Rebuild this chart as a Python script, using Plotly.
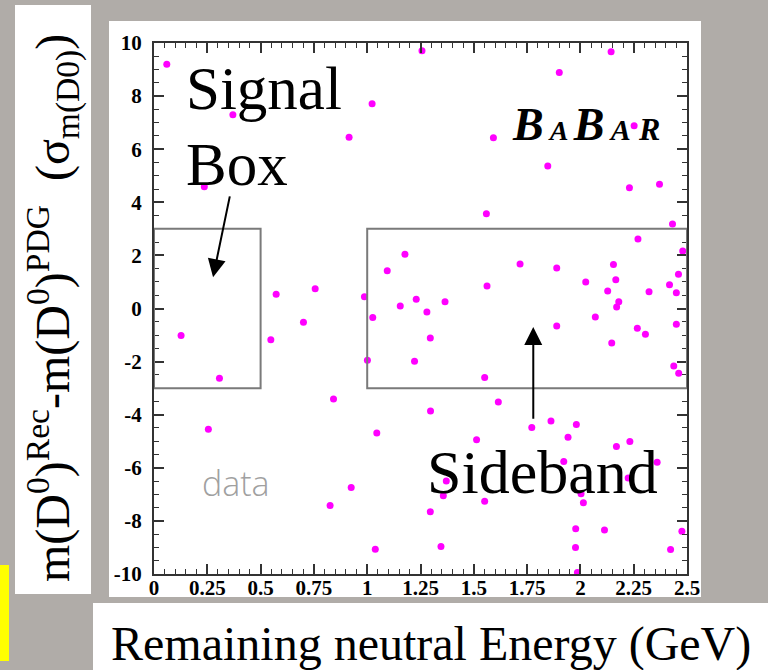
import plotly.graph_objects as go

# ---- data ----
energy_gev = [0.06, 0.37, 0.236, 0.915, 1.023, 0.573, 0.756, 0.987, 1.094, 1.026,
              1.155, 1.257, 2.144, 1.901, 1.592, 2.252, 1.847, 2.23, 2.371, 1.559,
              2.27, 1.177, 1.717, 1.889, 2.155, 2.166, 2.025, 2.128, 2.322, 1.562,
              1.23, 1.365, 1.28, 2.18, 2.17, 2.07, 2.432, 2.48, 2.46, 2.418,
              2.45, 2.45, 2.267, 2.305, 2.147, 2.438, 2.461, 0.127, 0.307, 0.255,
              0.548, 0.701, 0.842, 1.001, 1.045, 0.925, 0.826, 1.038, 1.889, 1.296,
              1.222, 1.551, 1.615, 1.297, 1.772, 1.862, 1.981, 1.942, 1.513, 2.169,
              2.232, 1.922, 2.36, 1.371, 1.357, 2.224, 2.003, 2.014, 1.551, 1.296,
              1.978, 2.113, 1.346, 1.977, 1.986, 2.476, 2.423]
delta_m_sigma = [9.2, 7.3, 4.59, 6.45, 7.71, 0.54, 0.74, 0.44, 1.42, -0.34,
                 0.09, 9.71, 9.67, 8.89, 6.43, 6.88, 5.37, 4.55, 4.68, 3.57,
                 2.62, 2.04, 1.68, 1.53, 1.66, 1.08, 1.0, 0.66, 0.63, 0.85,
                 0.35, 0.25, -0.13, 0.25, 0.06, -0.32, 3.18, 2.17, 1.29, 0.89,
                 0.59, -0.59, -0.74, -0.97, -1.3, -2.17, -2.44, -1.02, -2.63, -4.55,
                 -1.18, -0.52, -3.41, -1.95, -4.69, -6.74, -7.42, -9.07, -0.66, -1.11,
                 -1.99, -2.6, -3.52, -3.86, -4.48, -4.24, -4.37, -4.85, -4.94, -5.2,
                 -5.01, -5.76, -5.79, -6.5, -7.05, -6.38, -6.98, -7.32, -7.26, -7.66,
                 -8.3, -8.34, -8.96, -9.0, -9.94, -8.39, -9.08]

x_ticks = [0, 0.25, 0.5, 0.75, 1, 1.25, 1.5, 1.75, 2, 2.25, 2.5]
x_tick_labels = ["0", "0.25", "0.5", "0.75", "1", "1.25", "1.5", "1.75", "2", "2.25", "2.5"]
y_ticks = [-10, -8, -6, -4, -2, 0, 2, 4, 6, 8, 10]
y_tick_labels = ["-10", "-8", "-6", "-4", "-2", "0", "2", "4", "6", "8", "10"]

signal_box = dict(x0=0.0, x1=0.5, y0=-3.0, y1=3.0)
sideband_box = dict(x0=1.0, x1=2.5, y0=-3.0, y1=3.0)

x_title = "Remaining neutral Energy (GeV)"
y_title = "m(D<sup>0</sup>)<sup>Rec</sup>-m(D<sup>0</sup>)<sup>PDG</sup>  (σ<sub>m(D0)</sub>)"

# ---- layout geometry (pixels) ----
W, H = 768, 670
L, R, T, B = 154, 687, 43, 574


def px(xp):
    return (xp - L) / (R - L)


def py(yp):
    return (B - yp) / (B - T)


GRAY_BG = "#b0aca8"
SERIF = "Liberation Serif, Times New Roman, serif"

fig = go.Figure()
fig.add_trace(go.Scatter(
    x=energy_gev, y=delta_m_sigma, mode="markers",
    marker=dict(color="#ff00ff", size=7, line=dict(width=0)),
    showlegend=False, cliponaxis=False,
))

shapes = []
# background panels
panels = [
    (15, 5, 91, 594, "white"),
    (109, 21, 701, 597, "white"),
    (93, 603, 768, 672, "white"),
    (0, 565, 9, 661, "#ffff00"),
]
for x0, y0, x1, y1, c in panels:
    shapes.append(dict(type="rect", xref="paper", yref="paper",
                       x0=px(x0), x1=px(x1), y0=py(y1), y1=py(y0),
                       fillcolor=c, line=dict(width=0), layer="below"))
# gray strip that clips the bottom of the x tick labels
shapes.append(dict(type="rect", xref="paper", yref="paper",
                   x0=px(93), x1=px(768), y0=py(603), y1=py(597),
                   fillcolor=GRAY_BG, line=dict(width=0), layer="above"))
shapes.append(dict(type="rect", xref="paper", yref="paper",
                   x0=px(701), x1=px(768), y0=py(597), y1=py(21),
                   fillcolor=GRAY_BG, line=dict(width=0), layer="above"))
# signal / sideband boxes
for bx in (signal_box, sideband_box):
    shapes.append(dict(type="rect", xref="x", yref="y", **bx,
                       line=dict(color="#7a7a7a", width=2), layer="above"))

annotations = [
    dict(text="Signal", xref="paper", yref="paper", x=px(184), y=py(88),
         xanchor="left", yanchor="middle", showarrow=False,
         font=dict(family=SERIF, size=61, color="black")),
    dict(text="Box", xref="paper", yref="paper", x=px(184), y=py(165),
         xanchor="left", yanchor="middle", showarrow=False,
         font=dict(family=SERIF, size=61, color="black")),
    dict(text="Sideband", xref="paper", yref="paper", x=px(542), y=py(472),
         xanchor="center", yanchor="middle", showarrow=False,
         font=dict(family=SERIF, size=62, color="black")),
    dict(text='<b><i>B<span style="font-size:28px"> A </span>B<span style="font-size:30px"> A</span>'
              '<span style="font-size:32px"> R</span></i></b>',
         xref="paper", yref="paper", x=px(586), y=py(124),
         xanchor="center", yanchor="middle", showarrow=False,
         font=dict(family=SERIF, size=46, color="black")),
    dict(text="data", xref="paper", yref="paper", x=px(236), y=py(483),
         xanchor="center", yanchor="middle", showarrow=False,
         font=dict(family="Open Sans, DejaVu Sans, sans-serif", size=34,
                   color="#a0a0a0", weight=300)),
    dict(text=x_title, xref="paper", yref="paper", x=px(431), y=py(644),
         xanchor="center", yanchor="middle", showarrow=False,
         font=dict(family=SERIF, size=48, color="black")),
    dict(text=y_title, xref="paper", yref="paper", x=px(53), y=py(308),
         xanchor="center", yanchor="middle", showarrow=False, textangle=-90,
         font=dict(family=SERIF, size=48, color="black")),
    # arrows
    dict(text="", xref="x", yref="y", axref="x", ayref="y",
         x=0.277, y=1.18, ax=0.357, ay=4.28, showarrow=True,
         arrowhead=2, arrowsize=1.8, arrowwidth=2, arrowcolor="black", standoff=0),
    dict(text="", xref="x", yref="y", axref="x", ayref="y",
         x=1.779, y=-0.7, ax=1.779, ay=-4.21, showarrow=True,
         arrowhead=2, arrowsize=1.8, arrowwidth=2, arrowcolor="black", standoff=0),
]

axis_common = dict(
    showgrid=False, zeroline=False, showline=True, linecolor="#333333", linewidth=2,
    mirror="ticks", ticks="inside", ticklen=10, tickwidth=1.5, tickcolor="#333333",
    tickfont=dict(family=SERIF, size=21, color="black", weight="bold"),
)

fig.update_layout(
    width=W, height=H,
    margin=dict(l=L, r=W - R, t=T, b=H - B, pad=0),
    paper_bgcolor=GRAY_BG, plot_bgcolor="white",
    shapes=shapes, annotations=annotations, showlegend=False,
    xaxis=dict(range=[0, 2.5], tickvals=x_ticks, ticktext=x_tick_labels,
               minor=dict(dtick=0.05, tick0=0, ticks="inside", ticklen=5,
                          tickwidth=1.2, tickcolor="#333333"),
               ticklabelstandoff=-6, **axis_common),
    yaxis=dict(range=[-10, 10], tickvals=y_ticks, ticktext=y_tick_labels,
               minor=dict(dtick=0.5, tick0=0, ticks="inside", ticklen=5,
                          tickwidth=1.2, tickcolor="#333333"),
               ticklabelstandoff=6, **axis_common),
)

fig.write_html("out.html")
